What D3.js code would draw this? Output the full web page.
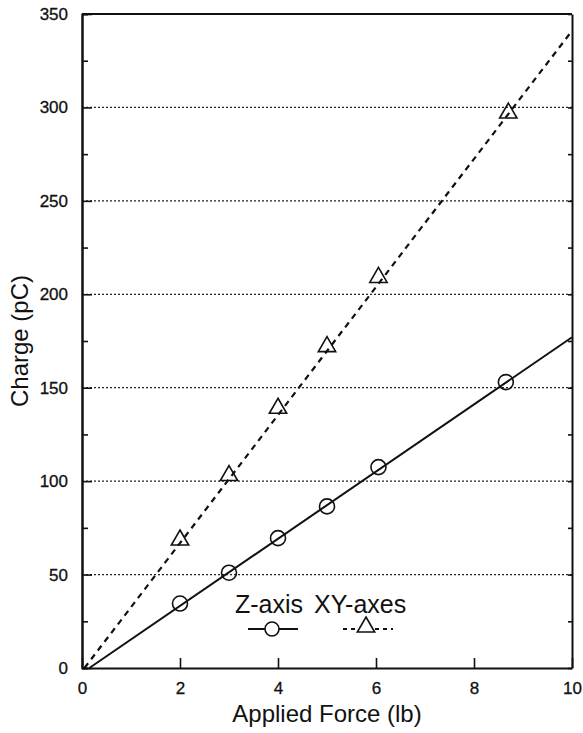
<!DOCTYPE html>
<html>
<head>
<meta charset="utf-8">
<script src="https://cdn.jsdelivr.net/npm/d3@7"></script>
<style>
    body { margin: 0; background: #fff; }
    svg text { font-family: "Liberation Sans", Arial, Helvetica, sans-serif; fill: #111; }
</style>
</head>
<body>
<svg id="chart" width="583" height="733"></svg>
<script>
// applied force (lb) for each measurement
let forceZ = [2, 3, 4, 5, 6.05, 8.65];
let forceXY = [2, 3, 4, 5, 6.05, 8.7];

// measured charge (pC)
let chargeZ = [34.5, 51, 69.5, 86.5, 107.5, 153];
let chargeXY = [68.5, 103, 139, 172, 209, 297];

// fitted lines, end points
let fitZ = [[0.15, 0], [10, 177]];
let fitXY = [[0.05, 0], [10, 341]];

let yTicks = [0, 50, 100, 150, 200, 250, 300, 350];
let yMinorTicks = [25, 75, 125, 175, 225, 275, 325];
let yGrid = [50, 100, 150, 200, 250, 300];
let xTicks = [0, 2, 4, 6, 8, 10];

let legendNames = ["Z-axis", "XY-axes"];

let margin = {top: 14, right: 11, bottom: 65, left: 82};
let width = 583 - margin.left - margin.right;
let height = 733 - margin.top - margin.bottom;

let svg = d3.select("#chart");
let g = svg.append("g")
    .attr("transform", "translate(" + margin.left + "," + margin.top + ")");

let x = d3.scaleLinear().domain([0, 10]).range([0, width]);
let y = d3.scaleLinear().domain([0, 350]).range([height, 0]);

// dotted grid
g.selectAll(".grid")
    .data(yGrid)
    .enter()
    .append("line")
    .attr("x1", 0)
    .attr("x2", width)
    .attr("y1", d => y(d))
    .attr("y2", d => y(d))
    .attr("stroke", "#222")
    .attr("stroke-width", 1.3)
    .attr("stroke-dasharray", "2,2");

// axes, ticks pointing inward
g.append("g")
    .call(d3.axisLeft(y).tickValues(yTicks).tickSize(-10).tickSizeOuter(0).tickPadding(14));
g.append("g")
    .call(d3.axisLeft(y).tickValues(yMinorTicks).tickSize(-6).tickFormat(""));
g.append("g")
    .attr("transform", "translate(" + width + ",0)")
    .call(d3.axisRight(y).tickValues(yMinorTicks.concat(yTicks)).tickSize(-4).tickSizeOuter(0).tickFormat(""));

g.append("g")
    .attr("transform", "translate(0," + height + ")")
    .call(d3.axisBottom(x).tickValues(xTicks).tickSize(-10).tickSizeOuter(0).tickPadding(14));

g.selectAll(".domain").attr("stroke", "#111").attr("stroke-width", 2);
g.selectAll(".tick line").attr("stroke", "#111").attr("stroke-width", 1.6);
g.selectAll(".tick text")
    .attr("font-size", 17)
    .attr("stroke", "#111")
    .attr("stroke-width", 0.3)
    .style("font-family", "'Liberation Sans', Arial, sans-serif");

// top frame line
g.append("line")
    .attr("x1", 0).attr("x2", width)
    .attr("y1", 0).attr("y2", 0)
    .attr("stroke", "#111").attr("stroke-width", 2);

// axis titles
g.append("text")
    .attr("x", width / 2)
    .attr("y", height + 54)
    .attr("text-anchor", "middle")
    .attr("font-size", 24)
    .text("Applied Force (lb)");

g.append("text")
    .attr("transform", "translate(" + (28 - margin.left) + "," + (height / 2) + ") rotate(-90)")
    .attr("text-anchor", "middle")
    .attr("font-size", 24)
    .text("Charge (pC)");

// fitted lines
let line = d3.line().x(d => x(d[0])).y(d => y(d[1]));

g.append("path")
    .attr("d", line(fitZ))
    .attr("fill", "none")
    .attr("stroke", "#111")
    .attr("stroke-width", 2);

g.append("path")
    .attr("d", line(fitXY))
    .attr("fill", "none")
    .attr("stroke", "#111")
    .attr("stroke-width", 2.2)
    .attr("stroke-dasharray", "6,5");

// markers
let triangle = d3.symbol().type(d3.symbolTriangle).size(130);

g.selectAll(".ptZ")
    .data(forceZ)
    .enter()
    .append("circle")
    .attr("cx", d => x(d))
    .attr("cy", (d, i) => y(chargeZ[i]))
    .attr("r", 7.5)
    .attr("fill", "none")
    .attr("stroke", "#111")
    .attr("stroke-width", 1.6);

g.selectAll(".ptXY")
    .data(forceXY)
    .enter()
    .append("path")
    .attr("d", triangle)
    .attr("transform", (d, i) => "translate(" + x(d) + "," + y(chargeXY[i]) + ")")
    .attr("fill", "none")
    .attr("stroke", "#111")
    .attr("stroke-width", 1.6);

// legend
let legend = svg.append("g");

legend.append("text")
    .attr("x", 235).attr("y", 613)
    .attr("font-size", 25)
    .text(legendNames[0]);
legend.append("text")
    .attr("x", 314).attr("y", 613)
    .attr("font-size", 25)
    .text(legendNames[1]);

legend.append("line")
    .attr("x1", 248).attr("x2", 298)
    .attr("y1", 629).attr("y2", 629)
    .attr("stroke", "#111").attr("stroke-width", 2);
legend.append("circle")
    .attr("cx", 272).attr("cy", 629).attr("r", 7)
    .attr("fill", "#fff").attr("stroke", "#111").attr("stroke-width", 1.6);

legend.append("line")
    .attr("x1", 343).attr("x2", 393)
    .attr("y1", 629).attr("y2", 629)
    .attr("stroke", "#111").attr("stroke-width", 2)
    .attr("stroke-dasharray", "4,4");
legend.append("path")
    .attr("d", triangle)
    .attr("transform", "translate(366,627)")
    .attr("fill", "#fff").attr("stroke", "#111").attr("stroke-width", 1.6);
</script>
</body>
</html>
